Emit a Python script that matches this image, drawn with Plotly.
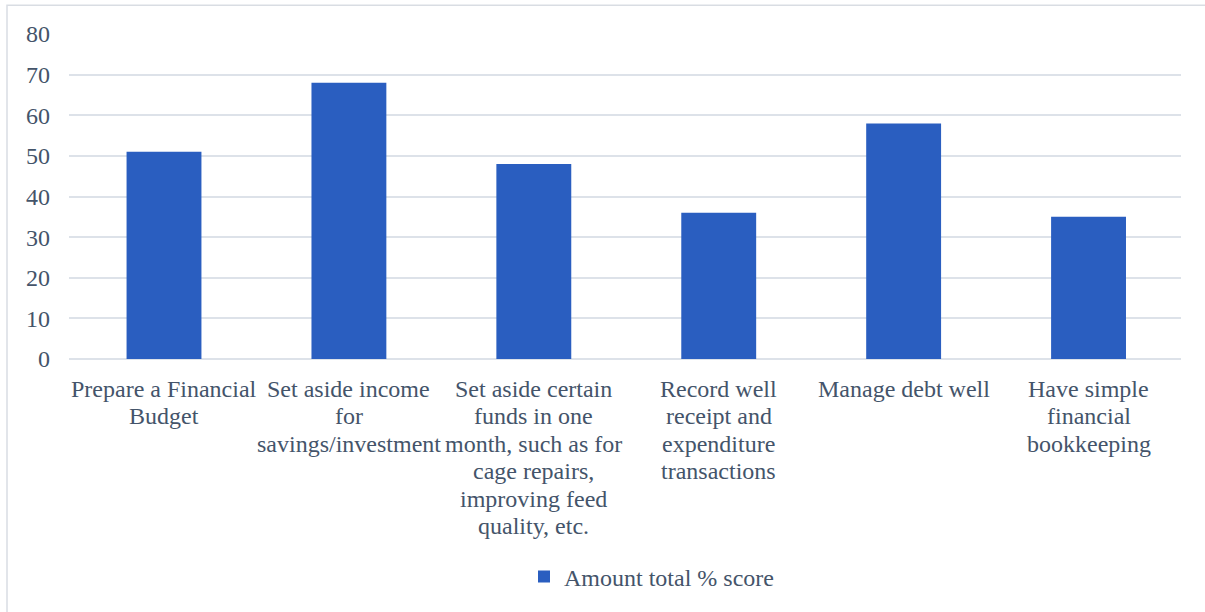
import plotly.graph_objects as go

categories = [
    "Prepare a Financial<br>Budget",
    "Set aside income<br>for<br>savings/investment",
    "Set aside certain<br>funds in one<br>month, such as for<br>cage repairs,<br>improving feed<br>quality, etc.",
    "Record well<br>receipt and<br>expenditure<br>transactions",
    "Manage debt well",
    "Have simple<br>financial<br>bookkeeping",
]
values = [51, 68, 48, 36, 58, 35]
series_name = "Amount total % score"
y_ticks = [0, 10, 20, 30, 40, 50, 60, 70, 80]

W, H = 1205, 612
L, R, T, B = 69, 24, 34, 250
pw, ph = W - L - R, H - T - B

font_family = "Liberation Serif, Times New Roman, serif"
font_color = "#44546A"
grid_color = "#DDE2E9"
FS = 24
LINE_H = 27.4

fig = go.Figure()
fig.add_trace(go.Bar(
    x=categories, y=values, name=series_name,
    marker=dict(color="#2A5EC0", line=dict(width=0)),
    showlegend=True,
))

# category labels with Word-like single line spacing
annotations = []
for cat in categories:
    for k, line in enumerate(cat.split("<br>")):
        annotations.append(dict(
            x=cat, xref="x", y=0, yref="paper", text=line, showarrow=False,
            xanchor="center", yanchor="middle", yshift=-(30 + k * LINE_H),
            font=dict(family=font_family, size=FS, color=font_color),
        ))

fig.update_layout(
    width=W, height=H,
    margin=dict(l=L, r=R, t=T, b=B),
    paper_bgcolor="white", plot_bgcolor="white",
    font=dict(family=font_family, size=FS, color=font_color),
    bargap=0.595,
    showlegend=True,
    legend=dict(orientation="h", x=(524 - L) / pw, xanchor="left",
                y=(H - B - 582) / ph, yanchor="middle",
                font=dict(family=font_family, size=FS, color=font_color), itemwidth=30),
    xaxis=dict(showgrid=False, showline=False, ticks="", showticklabels=False),
    yaxis=dict(range=[0, 80], tickvals=y_ticks, showgrid=True, gridcolor=grid_color, gridwidth=1.5,
               zeroline=True, zerolinecolor=grid_color, zerolinewidth=1.5,
               showline=False, ticks="", ticklabelstandoff=18,
               tickfont=dict(family=font_family, size=FS, color=font_color)),
    annotations=annotations,
    shapes=[dict(type="rect", xref="paper", yref="paper",
                 x0=(7 - L) / pw, x1=(W + 20 - L) / pw,
                 y0=(H - B - (H + 20)) / ph, y1=(H - B - 5) / ph,
                 line=dict(color="#D9DDE3", width=1.5), fillcolor="rgba(0,0,0,0)", layer="below")],
)

fig.write_html("out.html", config={"displayModeBar": False},
               post_script="document.body.style.margin='0px';")
